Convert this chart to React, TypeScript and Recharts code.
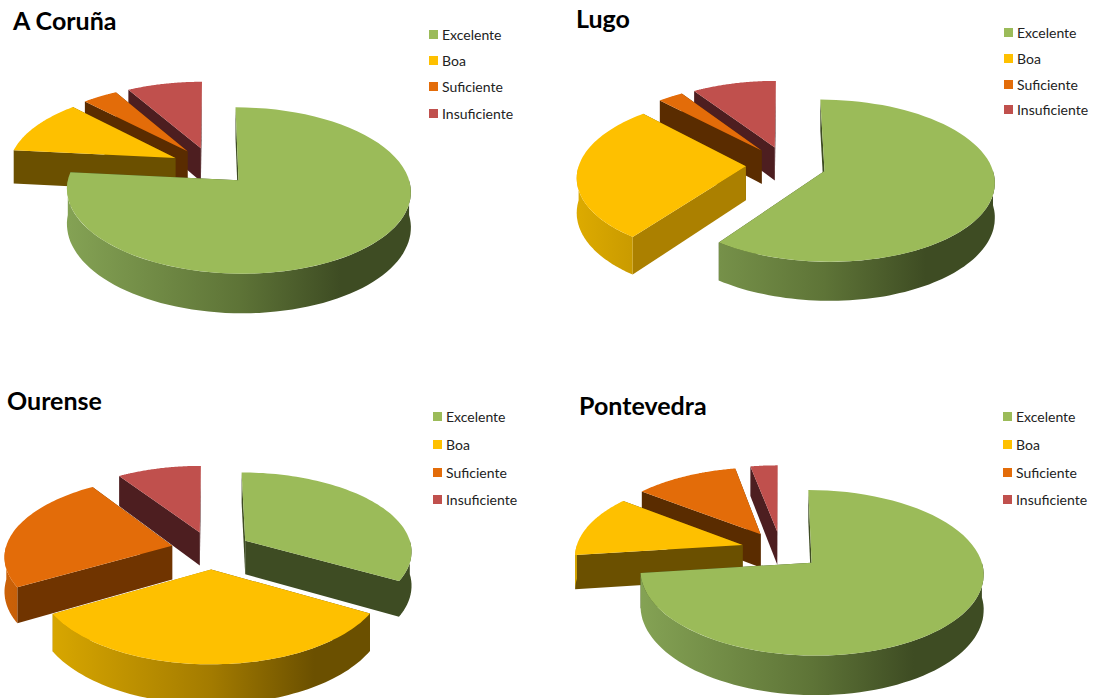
import React from 'react';
import { PieChart, Pie, Legend } from 'recharts';

const categories = ['Excelente', 'Boa', 'Suficiente', 'Insuficiente'];
const corunaValues = [76.6, 11.2, 3.9, 8.3];
const lugoValues = [60, 27.9, 2.8, 9.3];
const ourenseValues = [33.3, 33.3, 24.1, 9.3];
const pontevedraValues = [73, 12.5, 11.5, 3];

const topColors: any = { Excelente: '#9bbb59', Boa: '#fec000', Suficiente: '#e36c09', Insuficiente: '#c0504d' };
// cut faces of each slice, the second one is for faces turned to the light
const faceColors: any = {
  Excelente: ['#3e4c23', '#3e4c23'],
  Boa: ['#6b5000', '#ab8000'],
  Suficiente: ['#5a2c00', '#703400'],
  Insuficiente: ['#4d1e20', '#4d1e20'],
};
// outer wall gradient, left to right
const rimColors: any = {
  Excelente: ['#84a254', '#5e7437', '#3e4c23'],
  Boa: ['#dcaa00', '#a37b00', '#6b5000'],
  Suficiente: ['#cb6108', '#8a4305', '#5a2c00'],
  Insuficiente: ['#a8463f', '#7a3230', '#4d1e20'],
};

const TILT = 0.47;
const PERSPECTIVE = 0.12;
const DEPTH = 34;
const EXPLODE = 0.24;
const RAD = Math.PI / 180;

// Recharts only gives flat sector angles, this draws them as an exploded 3D slice
const Slice3D = (props: any) => {
  const { cx, cy, outerRadius: R, startAngle, endAngle } = props;
  const name = props.payload?.name ?? props.name;
  const mid = ((startAngle + endAngle) / 2) * RAD;
  const ex = EXPLODE * Math.cos(mid);
  const ey = -EXPLODE * Math.sin(mid);

  const project = (x: number, y: number, down: number) => {
    const X = ex + x;
    const Y = ey + y;
    const w = 1 - PERSPECTIVE * Y;
    return [cx + (R * X) / w, cy + (R * TILT * Y) / w + down / w];
  };
  const onRim = (deg: number, down: number) => project(Math.cos(deg * RAD), -Math.sin(deg * RAD), down);
  const toPath = (pts: number[][]) => 'M' + pts.map((p) => `${p[0].toFixed(1)},${p[1].toFixed(1)}`).join('L') + 'Z';
  const sweep = (from: number, to: number) => {
    const steps = 72;
    const out: number[] = [];
    for (let i = 0; i <= steps; i++) out.push(from + ((to - from) * i) / steps);
    return out;
  };

  const top = toPath([project(0, 0, 0), ...sweep(startAngle, endAngle).map((a) => onRim(a, 0))]);
  // only the front half of the outer wall faces the viewer
  const rimFrom = Math.max(startAngle, 180);
  const rimTo = Math.min(endAngle, 360);
  const rimArc = rimTo > rimFrom ? sweep(rimFrom, rimTo) : [];
  const rim = rimArc.length
    ? toPath([...rimArc.map((a) => onRim(a, 0)), ...[...rimArc].reverse().map((a) => onRim(a, DEPTH))])
    : '';
  const wall = (a: number) => toPath([project(0, 0, 0), onRim(a, 0), onRim(a, DEPTH), project(0, 0, DEPTH)]);
  const faceColor = (a: number) => {
    const d = ((a % 360) + 360) % 360;
    return faceColors[name][d > 200 && d < 260 ? 1 : 0];
  };

  const gradId = `rim-${Math.round(cx)}-${Math.round(cy)}-${name}`;
  const [left] = project(-1, 0, 0);
  const [right] = project(1, 0, 0);
  return (
    <g>
      <defs>
        <linearGradient id={gradId} gradientUnits="userSpaceOnUse" x1={left} x2={right} y1={0} y2={0}>
          <stop offset="0" stopColor={rimColors[name][0]} />
          <stop offset="0.5" stopColor={rimColors[name][1]} />
          <stop offset="0.8" stopColor={rimColors[name][2]} />
          <stop offset="1" stopColor={rimColors[name][2]} />
        </linearGradient>
      </defs>
      <path d={wall(startAngle)} fill={faceColor(startAngle)} />
      <path d={wall(endAngle)} fill={faceColor(endAngle)} />
      {rim && <path d={rim} fill={`url(#${gradId})`} />}
      <path d={top} fill={topColors[name]} />
    </g>
  );
};

const legendText = { fontFamily: 'Lato, sans-serif', fontSize: 14, color: '#222' };

const PanelLegend = ({ gap }: any) => (
  <div style={legendText}>
    {categories.map((c) => (
      <div key={c} style={{ display: 'flex', alignItems: 'center', height: gap }}>
        <span style={{ width: 9, height: 9, background: topColors[c], marginRight: 4 }} />
        {c}
      </div>
    ))}
  </div>
);

const RegionPie = ({ title, values, left, top, cx, cy, titleX, titleY, legendX, legendY, gap }: any) => {
  // back slices first so the front ones paint over them, going anticlockwise from 12 o'clock
  const data = categories.map((name, i) => ({ name, value: values[i], fill: topColors[name] })).reverse();
  return (
    <div style={{ position: 'absolute', left, top, width: 547, height: 349 }}>
      <PieChart width={547} height={349} margin={{ top: 0, right: 0, bottom: 0, left: 0 }}>
        <Pie
          data={data}
          dataKey="value"
          nameKey="name"
          cx={cx}
          cy={cy}
          outerRadius={167}
          startAngle={90}
          endAngle={450}
          stroke="none"
          shape={Slice3D}
          isAnimationActive={false}
        />
        <Legend
          content={<PanelLegend gap={gap} />}
          wrapperStyle={{ position: 'absolute', left: legendX, top: legendY, width: 110, bottom: 'auto' }}
        />
      </PieChart>
      <div
        style={{
          position: 'absolute',
          left: titleX,
          top: titleY,
          fontFamily: 'Lato, sans-serif',
          fontWeight: 700,
          fontSize: 25,
          lineHeight: '30px',
          color: '#000',
        }}
      >
        {title}
      </div>
    </div>
  );
};

export default function App() {
  return (
    <div style={{ position: 'absolute', left: 0, top: 0, width: 1093, height: 698, overflow: 'hidden', background: '#fff' }}>
      <RegionPie title="A Coruña" values={corunaValues} left={0} top={0} cx={211} cy={166} titleX={13} titleY={5} legendX={429} legendY={21} gap={26.3} />
      <RegionPie title="Lugo" values={lugoValues} left={546} top={0} cx={240} cy={165} titleX={30} titleY={3} legendX={458} legendY={20} gap={25.7} />
      <RegionPie title="Ourense" values={ourenseValues} left={0} top={349} cx={211} cy={201} titleX={7} titleY={36} legendX={433} legendY={54} gap={27.7} />
      <RegionPie title="Pontevedra" values={pontevedraValues} left={546} top={349} cx={235} cy={201} titleX={33} titleY={41} legendX={457} legendY={54} gap={27.7} />
    </div>
  );
}
